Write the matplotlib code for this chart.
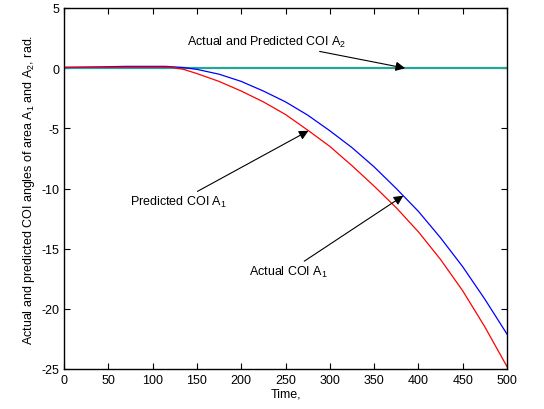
import numpy as np
import matplotlib
matplotlib.use("Agg")
import matplotlib.pyplot as plt

plt.rcParams['font.family'] = ['Liberation Sans', 'DejaVu Sans']
plt.rcParams['mathtext.fontset'] = 'custom'
plt.rcParams['mathtext.rm'] = 'Liberation Sans'
plt.rcParams['mathtext.it'] = 'Liberation Sans'
plt.rcParams['axes.unicode_minus'] = False

# COI angle traces (rad) over time
t_actual1 = [0, 70, 115, 135, 150, 175, 200, 225, 250, 275, 300, 325, 350, 375, 400, 425, 450, 475, 500]
actual1 = [0.05, 0.15, 0.15, 0.05, -0.1, -0.5, -1.1, -1.9, -2.8, -3.9, -5.2, -6.6, -8.2, -10.0, -11.9, -14.1, -16.5, -19.2, -22.1]

t_pred1 = [0, 120, 135, 150, 175, 200, 225, 250, 276, 300, 325, 350, 375, 400, 425, 450, 475, 500]
pred1 = [0.08, 0.08, -0.1, -0.45, -1.1, -1.9, -2.8, -3.85, -5.2, -6.5, -8.1, -9.8, -11.6, -13.6, -15.9, -18.5, -21.5, -24.8]

t_area2 = [0, 500]
area2 = [0.0, 0.0]

fig = plt.figure(figsize=(5.44, 4.10), dpi=100)
ax = fig.add_axes([64/544, 1-370/410, 443/544, 361/410])

ax.plot(t_area2, area2, color='#26a69a', lw=1.6)
ax.plot(t_actual1, actual1, color='#0000ff', lw=0.9)
ax.plot(t_pred1, pred1, color='#ff0000', lw=0.9)

ax.set_xlim(0, 500)
ax.set_ylim(-25, 5)
ax.set_xticks(np.arange(0, 501, 50))
ax.set_yticks(np.arange(-25, 6, 5))
ax.tick_params(direction='in', top=True, right=True, labelsize=9, length=4)
for s in ax.spines.values():
    s.set_linewidth(1.0)

ax.set_xlabel('Time,', fontsize=9, labelpad=1)
ax.set_ylabel('Actual and predicted COI angles of area A$_1$ and A$_2$, rad.', fontsize=9, labelpad=3)

arrow = dict(arrowstyle='-|>', color='black', lw=0.8, mutation_scale=14, shrinkA=0, shrinkB=0)
ax.annotate('Actual and Predicted COI A$_2$', xy=(385, 0), xytext=(139, 2.25),
            fontsize=9, va='center', ha='left', arrowprops=arrow)
ax.annotate('Predicted COI A$_1$', xy=(276, -5.2), xytext=(74.5, -11.1),
            fontsize=9, va='center', ha='left', arrowprops=arrow)
ax.annotate('Actual COI A$_1$', xy=(383, -10.6), xytext=(209, -16.9),
            fontsize=9, va='center', ha='left', arrowprops=arrow)

fig.savefig('out.png', dpi=100)
